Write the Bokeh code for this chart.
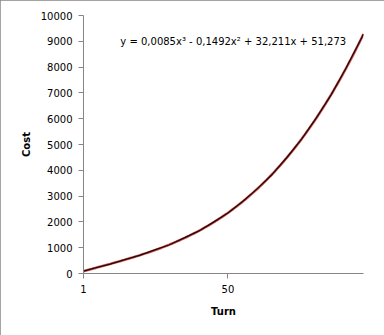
import numpy as np
from bokeh.plotting import figure
from bokeh.models import FixedTicker, Label, Range1d
from bokeh.embed import file_html
from bokeh.resources import INLINE

# Data
turns = [1, 5, 10, 15, 20, 25, 30, 35, 40, 45, 50, 55, 60, 65, 70, 75, 80, 85, 90, 95, 96]
cost = [90, 215, 360, 540, 700, 905, 1105, 1370, 1640, 1980, 2345, 2790, 3290,
        3840, 4495, 5210, 6030, 6925, 7945, 9050, 9280]
x_ticks = [1, 50]
y_ticks = list(range(0, 10001, 1000))
equation = "y = 0,0085x\u00b3 - 0,1492x\u00b2 + 32,211x + 51,273"

FONT = "DejaVu Sans"
AXIS_COLOR = "#868686"

p = figure(width=384, height=335, output_backend="svg", toolbar_location=None,
           x_range=Range1d(1, 96), y_range=Range1d(0, 10000),
           min_border_left=83, min_border_right=21, min_border_top=15, min_border_bottom=62)
p.styles = {"outline": "1px solid #868686", "outline-offset": "-1px"}
p.outline_line_color = None
p.grid.visible = False
p.background_fill_color = "white"
p.border_fill_color = "white"

# polynomial trendline (3rd order) fitted to the data
coef = np.polyfit(turns, cost, 3)
tx = np.linspace(min(turns), max(turns), 200)
ty = np.polyval(coef, tx)
p.line(tx, ty, line_color="#d9534f", line_width=2.6)
p.line(turns, cost, line_color="#1a0a0a", line_width=1.3)

for ax in (p.xaxis[0], p.yaxis[0]):
    ax.axis_line_color = AXIS_COLOR
    ax.major_tick_line_color = AXIS_COLOR
    ax.major_tick_in = 0
    ax.major_tick_out = 5
    ax.minor_tick_line_color = None
    ax.major_label_text_font = FONT
    ax.major_label_text_font_size = "10px"
    ax.major_label_text_color = "black"
    ax.axis_label_text_font = FONT
    ax.axis_label_text_font_size = "10px"
    ax.axis_label_text_font_style = "bold"
    ax.axis_label_text_color = "black"

p.xaxis.ticker = FixedTicker(ticks=x_ticks)
p.yaxis.ticker = FixedTicker(ticks=y_ticks)
p.xaxis.axis_label = "Turn"
p.yaxis.axis_label = "Cost"
p.xaxis.major_label_standoff = 6
p.yaxis.major_label_standoff = 6
p.xaxis.axis_label_standoff = 10
p.yaxis.axis_label_standoff = 6

p.add_layout(Label(x=13.5, y=9000, text=equation, text_font=FONT, text_font_size="10px",
                   text_align="left", text_baseline="middle", text_color="black"))

open("out.html", "w").write(file_html(p, INLINE))
